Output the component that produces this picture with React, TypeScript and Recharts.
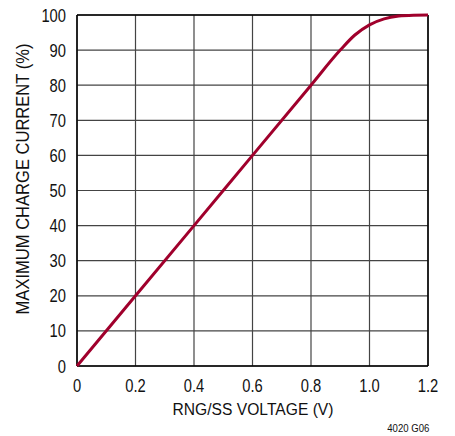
import React from "react";
import { LineChart, Line, XAxis, YAxis, CartesianGrid, ReferenceLine } from "recharts";

const voltage = [0, 0.2, 0.4, 0.6, 0.8, 0.9, 0.95, 1.0, 1.05, 1.1, 1.15, 1.2];
const current = [0, 20, 40, 60, 80, 90, 94.3, 97.2, 98.9, 99.7, 99.95, 100];
const xTicks = [0, 0.2, 0.4, 0.6, 0.8, 1.0, 1.2];
const yTicks = [0, 10, 20, 30, 40, 50, 60, 70, 80, 90, 100];

const data = voltage.map((v, i) => ({ v, c: current[i] }));
const FONT = "'Liberation Sans', Arial, sans-serif";
const SX = 0.82;

const XTick = (props: any) => {
  const { x, payload } = props;
  const t = payload.value as number;
  const label = t === 0 ? "0" : t.toFixed(1);
  return (
    <text transform={`translate(${x},${385}) scale(${SX},1)`} x={0} y={0} textAnchor="middle" dominantBaseline="central" fontSize={18} fontFamily={FONT} fill="#111">
      {label}
    </text>
  );
};

const YTick = (props: any) => {
  const { y, payload } = props;
  return (
    <text transform={`translate(${66},${y}) scale(${SX},1)`} x={0} y={0} textAnchor="end" dominantBaseline="central" fontSize={18} fontFamily={FONT} fill="#111">
      {String(payload.value)}
    </text>
  );
};

const YLabel = () => (
  <text transform={`translate(23,179) rotate(-90) scale(0.92,1)`} x={0} y={0} textAnchor="middle" dominantBaseline="central" fontSize={18} fontFamily={FONT} fill="#111">
    MAXIMUM CHARGE CURRENT (%)
  </text>
);

const XLabel = () => (
  <text transform={`translate(253,409) scale(0.92,1)`} x={0} y={0} textAnchor="middle" dominantBaseline="central" fontSize={17} fontFamily={FONT} fill="#111">
    RNG/SS VOLTAGE (V)
  </text>
);

export default function App() {
  return (
    <div style={{ position: "absolute", left: 0, top: 0, width: 455, height: 436, background: "#fff", fontFamily: FONT }}>
      <LineChart width={455} height={436} data={data} margin={{ top: 15, right: 27, bottom: 20, left: 0 }}>
        <CartesianGrid stroke="#444" strokeWidth={1.2} horizontal vertical />
        <XAxis
          dataKey="v"
          type="number"
          domain={[0, 1.2]}
          ticks={xTicks}
          tickLine={false}
          axisLine={false}
          tick={<XTick />}
          height={50}
          label={<XLabel />}
        />
        <YAxis
          type="number"
          domain={[0, 100]}
          ticks={yTicks}
          tickLine={false}
          axisLine={false}
          tick={<YTick />}
          width={77}
          label={<YLabel />}
        />
        <ReferenceLine x={0} stroke="#000" strokeWidth={1.5} />
        <ReferenceLine x={1.2} stroke="#000" strokeWidth={1.5} />
        <ReferenceLine y={0} stroke="#000" strokeWidth={1.5} />
        <ReferenceLine y={100} stroke="#000" strokeWidth={1.5} />
        <Line type="monotone" dataKey="c" stroke="#A0002C" strokeWidth={3} dot={false} isAnimationActive={false} />
      </LineChart>
      <div style={{ position: "absolute", right: 26, top: 422, fontSize: 11, color: "#111", fontFamily: FONT, transform: "scaleX(0.87)", transformOrigin: "right top", whiteSpace: "nowrap" }}>4020 G06</div>
    </div>
  );
}
